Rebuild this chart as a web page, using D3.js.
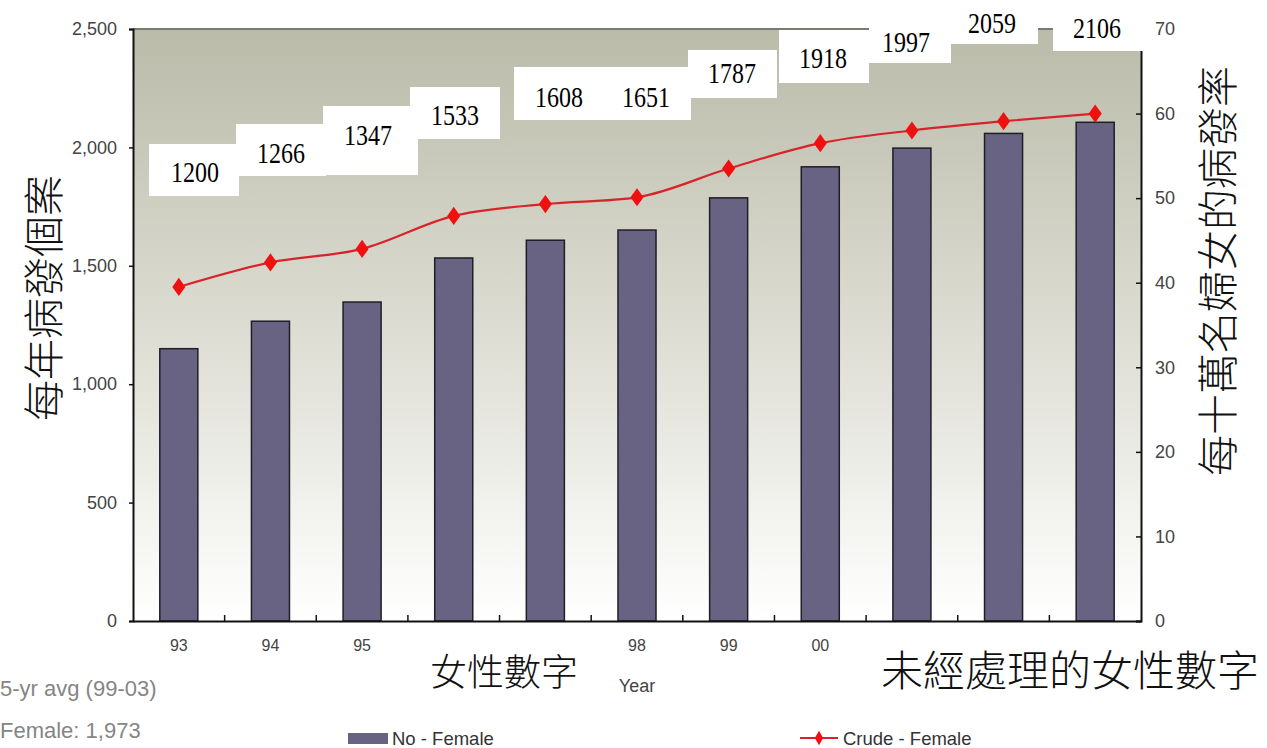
<!DOCTYPE html>
<html><head><meta charset="utf-8">
<script src="https://cdn.jsdelivr.net/npm/d3@7"></script>
<style>body{margin:0;background:#fff}svg{display:block}</style>
</head><body>
<svg id="chart" width="1267" height="748"></svg>
<script>
// ---- data ----
const categories = ["93","94","95","96","97","98","99","00","01","02","03"];
const casesFemale = [1150, 1266, 1347, 1533, 1608, 1651, 1787, 1918, 1997, 2059, 2106];
const crudeFemale = [39.5, 42.4, 44.0, 47.9, 49.3, 50.1, 53.5, 56.5, 58.0, 59.1, 60.0];
const annotationLabels = ["1200","1266","1347","1533","1608","1651","1787","1918","1997","2059","2106"];
const leftTicks = [0, 500, 1000, 1500, 2000, 2500];
const rightTicks = [0, 10, 20, 30, 40, 50, 60, 70];
const visibleXLabels = ["93","94","95","98","99","00"];

// ---- layout (annotation boxes, pixel layout only) ----
const boxLayout = [
  {x:149,y:144,w:90,h:52},{x:236,y:124,w:90,h:52},{x:323,y:106,w:95,h:69},
  {x:410,y:87,w:90,h:52},{x:514,y:67,w:177,h:53},{x:688,y:50,w:89,h:48},
  {x:779,y:30,w:90,h:53},{x:869,y:26,w:82,h:37},{x:951,y:0,w:87,h:44},{x:1053,y:0,w:90,h:51}
];
const textLayout = [[195,172],[281,153],[368,135],[455,115],[559,97],[646,97],[732,73],[823,58],[906,42],[992,23],[1097,28]];

const svg = d3.select("#chart");
const L = 133, R = 1141, T = 29, B = 621;

const x = d3.scaleBand().domain(categories).range([L, R]).paddingInner(0.585).paddingOuter(0.2925);
const yL = d3.scaleLinear().domain([0, 2500]).range([B, T]);
const yR = d3.scaleLinear().domain([0, 70]).range([B, T]);

// background gradient
const defs = svg.append("defs");
const g = defs.append("linearGradient").attr("id","bg").attr("x1",0).attr("y1",0).attr("x2",0).attr("y2",1);
g.append("stop").attr("offset","0%").attr("stop-color","#bbbbaa");
g.append("stop").attr("offset","50%").attr("stop-color","#dcdcd2");
g.append("stop").attr("offset","100%").attr("stop-color","#ffffff");
svg.append("rect").attr("x",L).attr("y",T).attr("width",R-L).attr("height",B-T).attr("fill","url(#bg)");
svg.append("line").attr("x1",L).attr("x2",R).attr("y1",T).attr("y2",T).attr("stroke","#7a7a72").attr("stroke-width",2);

// bars
svg.append("g").selectAll("rect").data(categories).join("rect")
  .attr("x", d => x(d)).attr("width", x.bandwidth())
  .attr("y", (d,i) => yL(casesFemale[i])).attr("height", (d,i) => B - yL(casesFemale[i]))
  .attr("fill","#686383").attr("stroke","#1e1e28").attr("stroke-width",1.5);

// axes
const tickFont = "Liberation Sans, Arial, sans-serif";
const axL = svg.append("g").attr("transform",`translate(${L},0)`)
  .call(d3.axisLeft(yL).tickValues(leftTicks).tickSize(4).tickPadding(12).tickFormat(d3.format(",")));
const axR = svg.append("g").attr("transform",`translate(${R},0)`)
  .call(d3.axisRight(yR).tickValues(rightTicks).tickSize(-5).tickPadding(14));
const axX = svg.append("g").attr("transform",`translate(0,${B})`)
  .call(d3.axisBottom(x).tickSize(0).tickPadding(19).tickFormat(d => visibleXLabels.includes(d) ? d : ""));
[axL, axR, axX].forEach(a => {
  a.select(".domain").attr("stroke","#111").attr("stroke-width",2);
  a.selectAll(".tick line").attr("stroke","#111").attr("stroke-width",1.5);
  a.selectAll("text").attr("font-family",tickFont).attr("font-size",18).attr("fill","#444");
});
axX.selectAll("text").attr("font-size",16);
// category separator ticks (inside)
svg.append("g").selectAll("line").data(categories.slice(1)).join("line")
  .attr("x1", d => x(d) - x.step()*x.paddingInner()/2).attr("x2", d => x(d) - x.step()*x.paddingInner()/2)
  .attr("y1", B).attr("y2", B-6).attr("stroke","#111").attr("stroke-width",1.5);

// line
const line = d3.line().x((d,i) => x(categories[i]) + x.bandwidth()/2).y(d => yR(d)).curve(d3.curveMonotoneX);
svg.append("path").datum(crudeFemale).attr("d", line).attr("fill","none").attr("stroke","#d8232a").attr("stroke-width",2.2);
const diamond = d3.symbol().type(d3.symbolDiamond).size(95);
svg.append("g").selectAll("path").data(crudeFemale).join("path")
  .attr("d", diamond)
  .attr("transform", (d,i) => `translate(${x(categories[i]) + x.bandwidth()/2},${yR(d)}) scale(1.25,1)`)
  .attr("fill","#f01010");

// annotation boxes & numbers
svg.append("g").selectAll("rect").data(boxLayout).join("rect")
  .attr("x", d => d.x).attr("y", d => d.y).attr("width", d => d.w).attr("height", d => d.h).attr("fill","#fff");
svg.append("g").selectAll("text").data(annotationLabels).join("text")
  .attr("transform", (d,i) => `translate(${textLayout[i][0]},${textLayout[i][1]}) scale(1,1.25)`)
  .attr("y", 8).attr("text-anchor","middle")
  .attr("font-family","Liberation Serif, Times New Roman, serif").attr("font-size",24).attr("fill","#000")
  .text(d => d);

// axis titles
const cjk = "Noto Sans CJK TC, Noto Sans CJK SC, sans-serif";
svg.append("text").attr("transform","translate(41,298) rotate(-90)").attr("text-anchor","middle")
  .attr("dominant-baseline","central").attr("font-family",cjk).attr("font-weight",300).attr("font-size",41)
  .attr("fill","#111").text("每年病發個案");
svg.append("text").attr("transform","translate(1215,271) rotate(-90)").attr("text-anchor","middle")
  .attr("dominant-baseline","central").attr("font-family",cjk).attr("font-weight",300).attr("font-size",41)
  .attr("fill","#111").text("每十萬名婦女的病發率");

svg.append("text").attr("x",637).attr("y",692).attr("text-anchor","middle").attr("font-family",tickFont)
  .attr("font-size",18).attr("fill","#444").text("Year");

// overlays
const ov1 = svg.append("g");
ov1.append("rect").attr("x",425).attr("y",636).attr("width",158).attr("height",56).attr("fill","#fff");
ov1.append("text").attr("x",504).attr("y",670).attr("text-anchor","middle").attr("dominant-baseline","central")
  .attr("font-family",cjk).attr("font-weight",300).attr("font-size",37).attr("fill","#111").text("女性數字");
const ov2 = svg.append("g");
ov2.append("rect").attr("x",875).attr("y",632).attr("width",392).attr("height",62).attr("fill","#fff");
ov2.append("text").attr("x",1070).attr("y",667).attr("text-anchor","middle").attr("dominant-baseline","central")
  .attr("font-family",cjk).attr("font-weight",300).attr("font-size",42).attr("fill","#111").text("未經處理的女性數字");

// side notes
svg.append("text").attr("x",0).attr("y",696).attr("font-family",tickFont).attr("font-size",22).attr("fill","#858585").text("5-yr avg (99-03)");
svg.append("text").attr("x",0).attr("y",738).attr("font-family",tickFont).attr("font-size",22).attr("fill","#858585").text("Female: 1,973");

// legend
svg.append("rect").attr("x",348).attr("y",733).attr("width",40).attr("height",11).attr("fill","#686383");
svg.append("text").attr("x",392).attr("y",745).attr("font-family",tickFont).attr("font-size",18.5).attr("fill","#333").text("No - Female");
svg.append("line").attr("x1",800).attr("x2",838).attr("y1",738).attr("y2",738).attr("stroke","#d8232a").attr("stroke-width",2);
svg.append("path").attr("d", d3.symbol().type(d3.symbolDiamond).size(60)).attr("transform","translate(819,738)").attr("fill","#f01010");
svg.append("text").attr("x",843).attr("y",745).attr("font-family",tickFont).attr("font-size",18.5).attr("fill","#333").text("Crude - Female");
</script>
</body></html>
